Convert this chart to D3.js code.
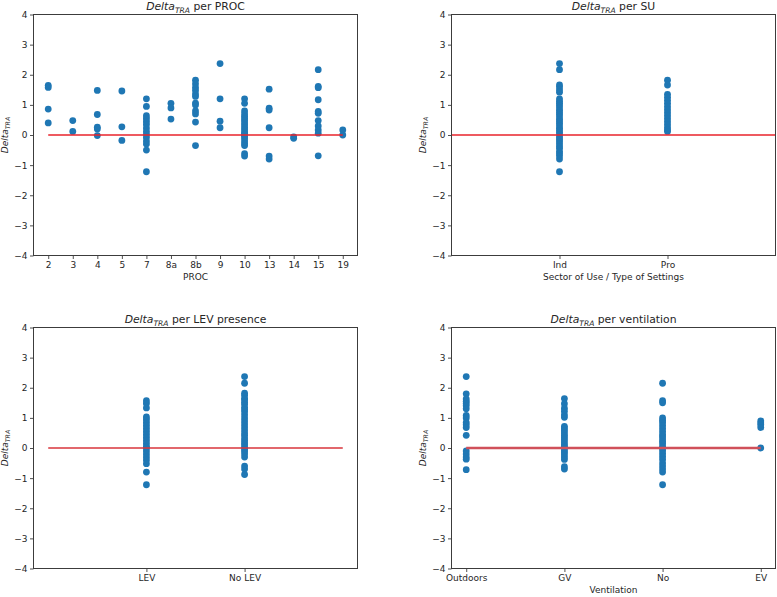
<!DOCTYPE html>
<html>
<head>
<meta charset="utf-8">
<script src="https://cdn.jsdelivr.net/npm/d3@7"></script>
<style>
  html, body { margin: 0; padding: 0; background: #fff; }
  svg { display: block; font-family: "DejaVu Sans", sans-serif; }
</style>
</head>
<body>
<svg id="chart" width="777" height="597"></svg>
<script>
// ---------------- data ----------------
const yTicks = [-4, -3, -2, -1, 0, 1, 2, 3, 4];

const procCats = ["2", "3", "4", "5", "7", "8a", "8b", "9", "10", "13", "14", "15", "19"];
const procValues = [
  [1.65, 1.58, 0.86, 0.40],
  [0.48, 0.12],
  [1.48, 0.68, 0.26, 0.20, -0.02],
  [1.46, 0.27, -0.18],
  [1.20, 0.95, 0.64, 0.55, 0.45, 0.35, 0.23, 0.12, 0.02, -0.08, -0.20, -0.30, -0.50, -1.22],
  [1.05, 0.90, 0.53],
  [1.82, 1.70, 1.58, 1.48, 1.36, 1.28, 1.06, 1.00, 0.80, 0.70, 0.43, -0.35],
  [2.37, 1.20, 0.46, 0.24],
  [1.20, 1.05, 0.80, 0.70, 0.62, 0.55, 0.48, 0.40, 0.33, 0.25, 0.18, 0.10, 0.05, 0.00, -0.05, -0.12, -0.20, -0.28, -0.35, -0.62, -0.70],
  [1.52, 0.89, 0.83, 0.24, -0.70, -0.80],
  [-0.06, -0.11],
  [2.17, 1.61, 1.57, 1.17, 0.78, 0.72, 0.48, 0.30, 0.17, 0.06, -0.69],
  [0.17, 0.00]
];

const suCats = ["Ind", "Pro"];
const suValues = [
  [2.37, 2.17, 1.66, 1.59, 1.50, 1.42, 1.20, 1.12, 1.05, 0.98, 0.90, 0.82, 0.75, 0.68, 0.60, 0.52, 0.45, 0.38, 0.30, 0.22, 0.15, 0.08, 0.00, -0.08, -0.15, -0.22, -0.30, -0.38, -0.45, -0.55, -0.62, -0.70, -0.80, -1.22],
  [1.82, 1.66, 1.35, 1.25, 1.15, 1.05, 0.95, 0.85, 0.75, 0.65, 0.55, 0.45, 0.35, 0.25, 0.17, 0.12]
];

const levCats = ["LEV", "No LEV"];
const levValues = [
  [1.57, 1.48, 1.33, 1.03, 0.95, 0.85, 0.75, 0.65, 0.55, 0.45, 0.35, 0.25, 0.15, 0.05, 0.00, -0.10, -0.20, -0.30, -0.40, -0.52, -0.80, -1.22],
  [2.37, 2.15, 1.82, 1.75, 1.65, 1.60, 1.52, 1.45, 1.35, 1.28, 1.20, 1.10, 1.00, 0.90, 0.80, 0.70, 0.60, 0.50, 0.42, 0.33, 0.25, 0.17, 0.10, 0.02, -0.05, -0.12, -0.20, -0.30, -0.60, -0.70, -0.88]
];

const ventCats = ["Outdoors", "GV", "No", "EV"];
const ventValues = [
  [2.37, 1.80, 1.63, 1.55, 1.48, 1.40, 1.30, 1.08, 1.00, 0.85, 0.77, 0.68, 0.42, -0.10, -0.20, -0.30, -0.37, -0.72],
  [1.64, 1.47, 1.32, 1.22, 1.10, 1.02, 0.72, 0.65, 0.58, 0.50, 0.42, 0.35, 0.28, 0.20, 0.12, 0.05, 0.00, -0.08, -0.15, -0.22, -0.30, -0.38, -0.62, -0.70],
  [2.15, 1.57, 1.50, 1.00, 0.92, 0.85, 0.75, 0.65, 0.55, 0.45, 0.38, 0.30, 0.22, 0.15, 0.05, 0.00, -0.08, -0.18, -0.28, -0.38, -0.50, -0.60, -0.70, -0.80, -1.22],
  [0.90, 0.83, 0.77, 0.68, 0.00]
];

// ---------------- layout ----------------
const panels = [
  { cats: procCats, values: procValues, title: " per PROC", xlabel: "PROC",
    x0: 33.5, x1: 357.5, y0: 14.5, y1: 255.5, xdom: [-0.6, 12.6], line: [0, 12],
    lineColor: "#e8232b", lineWidth: 1.5 },
  { cats: suCats, values: suValues, title: " per SU", xlabel: "Sector of Use / Type of Settings",
    x0: 451.5, x1: 775.5, y0: 14.5, y1: 255.5, xdom: [-1, 2], line: [-1, 2],
    lineColor: "#e8232b", lineWidth: 1.5 },
  { cats: levCats, values: levValues, title: " per LEV presence", xlabel: "",
    x0: 33.5, x1: 357.5, y0: 327.5, y1: 568.5, xdom: [-1.15, 2.15], line: [-1, 2],
    lineColor: "#d8353b", lineWidth: 1.5 },
  { cats: ventCats, values: ventValues, title: " per ventilation", xlabel: "Ventilation",
    x0: 451.5, x1: 775.5, y0: 327.5, y1: 568.5, xdom: [-0.15, 3.15], line: [0, 3],
    lineColor: "#d0505a", lineWidth: 2.5 }
];

const svg = d3.select("#chart");
const textColor = "#262626";
const spineColor = "#3c3c3c";
const fmt = v => (v < 0 ? "\u2212" + Math.abs(v) : String(v));

function deltaText(sel, size, rest) {
  sel.append("tspan").attr("font-style", "italic").text("Delta");
  sel.append("tspan").attr("font-style", "italic").attr("font-size", size * 0.7)
    .attr("dy", size * 0.28).text("TRA");
  if (rest) sel.append("tspan").attr("dy", -size * 0.28).text(rest);
}

panels.forEach(p => {
  const x = d3.scaleLinear().domain(p.xdom).range([p.x0, p.x1]);
  const y = d3.scaleLinear().domain([-4, 4]).range([p.y1, p.y0]);
  const g = svg.append("g");

  // y axis
  const yAxis = d3.axisLeft(y).tickValues(yTicks).tickFormat(fmt).tickSize(3.5).tickPadding(2.5);
  const ya = g.append("g").attr("transform", `translate(${p.x0},0)`).call(yAxis);
  // x axis
  const xAxis = d3.axisBottom(x).tickValues(d3.range(p.cats.length))
    .tickFormat(i => p.cats[i]).tickSize(3.5).tickPadding(2.5);
  const xa = g.append("g").attr("transform", `translate(0,${p.y1})`).call(xAxis);
  [ya, xa].forEach(a => {
    a.select(".domain").remove();
    a.selectAll(".tick line").attr("stroke", spineColor).attr("stroke-width", 0.9);
    a.selectAll(".tick text").attr("fill", textColor).attr("font-size", 9)
      .attr("font-family", "DejaVu Sans");
  });

  // points
  const pts = [];
  p.values.forEach((arr, i) => arr.forEach(v => pts.push({ i, v })));
  g.append("g").selectAll("circle").data(pts).join("circle")
    .attr("cx", d => x(d.i)).attr("cy", d => y(d.v)).attr("r", 3.4)
    .attr("fill", "#1f77b4");

  // zero line
  g.append("line")
    .attr("x1", x(p.line[0])).attr("x2", x(p.line[1]))
    .attr("y1", y(0)).attr("y2", y(0))
    .attr("stroke", p.lineColor).attr("stroke-width", p.lineWidth);

  // frame
  g.append("rect").attr("x", p.x0).attr("y", p.y0)
    .attr("width", p.x1 - p.x0).attr("height", p.y1 - p.y0)
    .attr("fill", "none").attr("stroke", spineColor).attr("stroke-width", 1);

  // title
  const t = g.append("text").attr("x", (p.x0 + p.x1) / 2).attr("y", p.y0 - 5)
    .attr("text-anchor", "middle").attr("font-size", 10.8).attr("fill", textColor);
  deltaText(t, 10.8, p.title);

  // x label
  if (p.xlabel) {
    g.append("text").attr("x", (p.x0 + p.x1) / 2).attr("y", p.y1 + 24.5)
      .attr("text-anchor", "middle").attr("font-size", 9).attr("fill", textColor)
      .text(p.xlabel);
  }

  // y label
  const yl = g.append("text")
    .attr("transform", `translate(${p.x0 - 26},${(p.y0 + p.y1) / 2}) rotate(-90)`)
    .attr("text-anchor", "middle").attr("font-size", 9).attr("fill", textColor);
  deltaText(yl, 9, "");
});
</script>
</body>
</html>
